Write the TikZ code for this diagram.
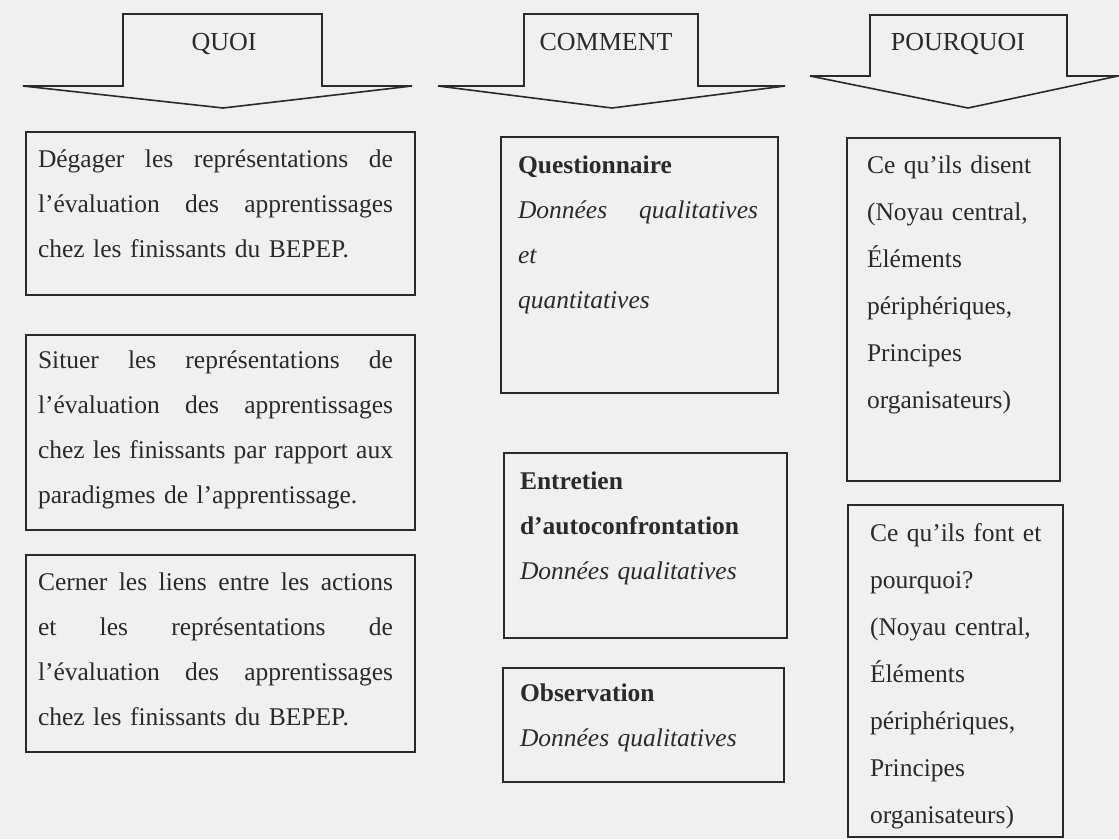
\documentclass[tikz,border=0pt]{standalone}
\usepackage{fontspec}
\setmainfont{Liberation Serif}
\definecolor{bg}{HTML}{F0F0F0}
\definecolor{ink}{HTML}{2A2A2A}
\newcommand{\jl}[1]{\makebox[355pt][s]{#1}}
\newcommand{\jm}[1]{\makebox[240pt][s]{#1}}
\tikzset{
  boxnode/.style={draw=ink, line width=1.6pt, inner sep=0pt, outer sep=0pt, anchor=north west},
  txt/.style={inner sep=0pt, outer sep=0pt, anchor=north west, text=ink, align=left,
              font=\fontsize{25.5}{45}\selectfont},
  txtr/.style={txt, font=\fontsize{25.5}{47}\selectfont},
  headarrow/.style={draw=ink, line width=1.6pt, line join=miter},
  htxt/.style={text=ink, anchor=base, inner sep=0pt, font=\fontsize{26}{30}\selectfont}
}
\begin{document}
\begin{tikzpicture}[x=1pt,y=-1pt]
\fill[bg] (0,0) rectangle (1119,839);
\useasboundingbox (0,0) rectangle (1119,839);

% header arrows
\draw[headarrow] (23,86) -- (123,86) -- (123,14) -- (322,14) -- (322,86) -- (412,86) -- (223,108) -- cycle;
\draw[headarrow] (438,86) -- (524,86) -- (524,14) -- (698,14) -- (698,86) -- (785,86) -- (612,108) -- cycle;
\draw[headarrow] (810,76) -- (870,76) -- (870,15) -- (1067,15) -- (1067,76) -- (1118,76) -- (968,108) -- cycle;
\node[htxt] (hquoi) at (224,50) {QUOI};
\node[htxt] (hcomment) at (606,50) {COMMENT};
\node[htxt] (hpourquoi) at (958,50) {POURQUOI};

% left column
\node[boxnode, minimum width=389pt, minimum height=163pt] (L1) at (26,132) {};
\node[boxnode, minimum width=389pt, minimum height=195pt] (L2) at (26,335) {};
\node[boxnode, minimum width=389pt, minimum height=197pt] (L3) at (26,555) {};
\node[txt, text width=355pt] (L1t) at (38,135.5) {\strut\jl{Dégager\hfill les\hfill représentations\hfill de}\\
  \jl{l’évaluation\hfill des\hfill apprentissages}\\ chez les finissants du BEPEP.};
\node[txt, text width=355pt] (L2t) at (38,336.5) {\strut\jl{Situer\hfill les\hfill représentations\hfill de}\\
  \jl{l’évaluation\hfill des\hfill apprentissages}\\ \jl{chez\hfill les\hfill finissants\hfill par\hfill rapport\hfill aux}\\ paradigmes de l’apprentissage.};
\node[txt, text width=355pt] (L3t) at (38,558.5) {\strut\jl{Cerner\hfill les\hfill liens\hfill entre\hfill les\hfill actions}\\
  \jl{et\hfill les\hfill représentations\hfill de}\\ \jl{l’évaluation\hfill des\hfill apprentissages}\\ chez les finissants du BEPEP.};

% middle column
\node[boxnode, minimum width=277pt, minimum height=256pt] (M1) at (501,137) {};
\node[boxnode, minimum width=283pt, minimum height=185pt] (M2) at (504,453) {};
\node[boxnode, minimum width=281pt, minimum height=114pt] (M3) at (503,668) {};
\node[txt, text width=240pt] (M1t) at (518,141.5) {\strut\textbf{Questionnaire}\\
  \jm{\itshape Données\hfill qualitatives}\\ \textit{et}\\ \textit{quantitatives}};
\node[txt, text width=250pt] (M2t) at (520,457.5) {\strut\textbf{Entretien}\\
  \textbf{d’autoconfrontation}\\ \textit{Données qualitatives}};
\node[txt, text width=250pt] (M3t) at (520,669.5) {\strut\textbf{Observation}\\
  \textit{Données qualitatives}};

% right column
\node[boxnode, minimum width=213pt, minimum height=343pt] (R1) at (847,138) {};
\node[boxnode, minimum width=215pt, minimum height=332pt] (R2) at (848,505) {};
\node[txtr, text width=190pt] (R1t) at (867,140.1) {\strut Ce qu’ils disent\\ (Noyau central,\\
  Éléments\\ périphériques,\\ Principes\\ organisateurs)};
\node[txtr, text width=190pt] (R2t) at (870,508.1) {\strut Ce qu’ils font et\\ pourquoi?\\
  (Noyau central,\\ Éléments\\ périphériques,\\ Principes\\ organisateurs)};
\end{tikzpicture}
\end{document}
